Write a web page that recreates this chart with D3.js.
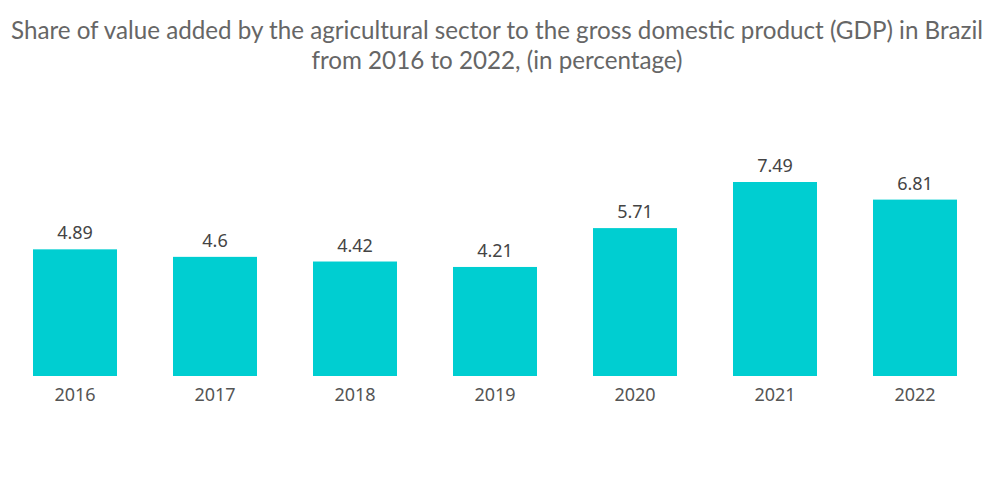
<!DOCTYPE html>
<html>
<head>
<meta charset="utf-8">
<script src="https://cdn.jsdelivr.net/npm/d3@7"></script>
<style>
  body { margin: 0; background: #fff; }
</style>
</head>
<body>
<div id="wrapper"></div>
<script>
const years = ["2016", "2017", "2018", "2019", "2020", "2021", "2022"];
const shares = [4.89, 4.6, 4.42, 4.21, 5.71, 7.49, 6.81];
const titleLines = [
    "Share of value added by the agricultural sector to the gross domestic product (GDP) in Brazil",
    "from 2016 to 2022, (in percentage)"
];

const dataset = years.map((y, i) => ({ year: y, value: shares[i] }));
const xAccessor = d => d.year;
const yAccessor = d => d.value;

let dimensions = {
    width: 1000,
    height: 504,
    margin: { top: 182, right: 15, bottom: 128, left: 5 },
}
dimensions.boundedWidth = dimensions.width - dimensions.margin.left - dimensions.margin.right
dimensions.boundedHeight = dimensions.height - dimensions.margin.top - dimensions.margin.bottom

const wrapper = d3.select("#wrapper")
    .append("svg")
    .attr("width", dimensions.width)
    .attr("height", dimensions.height);

// title
wrapper.append("g")
    .selectAll("text")
    .data(titleLines)
    .enter()
    .append("text")
    .attr("x", 497)
    .attr("y", (d, i) => 39 + i * 30)
    .attr("text-anchor", "middle")
    .attr("font-family", "Lato, sans-serif")
    .attr("font-size", "24.2px")
    .attr("fill", "#666666")
    .text(d => d);

const bounds = wrapper.append("g")
    .attr("transform", `translate(${dimensions.margin.left},${dimensions.margin.top})`);

const xScaler = d3.scaleBand()
    .domain(years)
    .range([0, 980])
    .paddingInner(0.4)
    .paddingOuter(0.2)

const yScaler = d3.scaleLinear()
    .domain([0, d3.max(dataset, yAccessor)])
    .range([dimensions.boundedHeight, 0])

const binGroups = bounds.append("g")
    .selectAll("g")
    .data(dataset)
    .enter()
    .append("g");

binGroups.append("rect")
    .attr("x", d => xScaler(xAccessor(d)))
    .attr("y", d => yScaler(yAccessor(d)))
    .attr("width", xScaler.bandwidth())
    .attr("height", d => dimensions.boundedHeight - yScaler(yAccessor(d)))
    .attr("fill", "#00ced1");

binGroups.append("text")
    .attr("x", d => xScaler(xAccessor(d)) + xScaler.bandwidth() / 2)
    .attr("y", d => yScaler(yAccessor(d)) - 10)
    .attr("text-anchor", "middle")
    .attr("font-family", "'Noto Sans', sans-serif")
    .attr("font-size", "18px")
    .attr("fill", "#444444")
    .text(d => d.value);

const xAxisGen = d3.axisBottom(xScaler).tickSize(0).tickPadding(12);
const xAxis = bounds.append("g")
    .attr("transform", `translate(0,${dimensions.boundedHeight})`)
    .call(xAxisGen);
xAxis.select(".domain").remove();
xAxis.selectAll("text")
    .attr("font-family", "'Noto Sans', sans-serif")
    .attr("font-size", "18px")
    .attr("fill", "#555555");
</script>
</body>
</html>
